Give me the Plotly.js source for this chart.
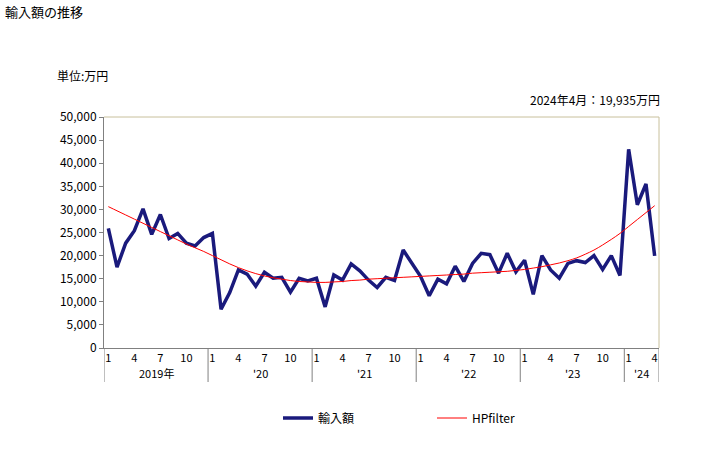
<!DOCTYPE html>
<html>
<head>
<meta charset="utf-8">
<script src="https://cdn.plot.ly/plotly-3.0.1.min.js"></script>
<style>html,body{margin:0;padding:0;background:#fff;}#chart{width:728px;height:450px;}</style>
</head>
<body>
<div id="chart"></div>
<script>
// ---- data ----
const years = [2019, 2020, 2021, 2022, 2023, 2024];
const yearLabels = ["2019年", "'20", "'21", "'22", "'23", "'24"];
const monthsPerYear = [12, 12, 12, 12, 12, 4];
const tickMonths = [1, 4, 7, 10];

// 輸入額 (万円), Jan 2019 .. Apr 2024
const imports = [
  25900, 17500, 22700, 25400, 30100, 24600, 28900, 23700, 24800, 22700, 22100, 23900,
  24800, 8400, 12000, 16900, 16000, 13400, 16400, 15100, 15300, 12100, 15100, 14500,
  15100, 8900, 15800, 14700, 18200, 16700, 14700, 13100, 15300, 14600, 21200, 18300,
  15500, 11300, 14900, 13900, 17700, 14400, 18300, 20500, 20200, 16200, 20500, 16500,
  19000, 11600, 20000, 16900, 15100, 18300, 18900, 18500, 20000, 17000, 20000, 15700,
  43000, 31000, 35500, 19935
];
// HPfilter trend
const hp = [
  30600, 29700, 28800, 27900, 27000, 26100, 25200, 24300, 23400, 22500, 21700, 20900,
  20000, 19100, 18200, 17400, 16700, 16100, 15600, 15200, 14900, 14600, 14400, 14300,
  14200, 14200, 14300, 14400, 14600, 14700, 14900, 15000, 15100, 15200, 15300, 15400,
  15500, 15600, 15700, 15800, 15900, 16000, 16200, 16300, 16400, 16500, 16600, 16800,
  17000, 17300, 17600, 18000, 18400, 18900, 19500, 20300, 21200, 22300, 23500, 24800,
  26300, 27800, 29300, 30800
];

// ---- build x positions & ticks ----
const xIdx = imports.map((_, i) => i);
const tickvals = [], ticktext = [], yearStart = [];
let k = 0;
monthsPerYear.forEach((n, yi) => {
  yearStart.push(k);
  for (let m = 1; m <= n; m++) {
    if (tickMonths.includes(m)) { tickvals.push(k); ticktext.push(String(m)); }
    k++;
  }
});
yearStart.push(k);

// ---- geometry ----
const L = 104, R = 659, T = 117, B = 348, W = 728, H = 450;
const py = (y) => (B - y) / (B - T);   // pixel y -> paper y
const px = (x) => (x - L) / (R - L);   // pixel x -> paper x

const font = "'Noto Sans CJK JP', 'Noto Sans', sans-serif";

const shapes = [];
for (let i = 0; i < yearStart.length; i++) {
  shapes.push({type: 'line', xref: 'x', yref: 'paper',
    x0: yearStart[i] - 0.5, x1: yearStart[i] - 0.5, y0: 0, y1: py(382),
    line: {color: '#808080', width: 1}});
}
// top & right border
shapes.push({type: 'line', xref: 'paper', yref: 'paper', x0: 0, x1: 1, y0: 1, y1: 1, line: {color: '#c8c09c', width: 1}});
shapes.push({type: 'line', xref: 'paper', yref: 'paper', x0: 1, x1: 1, y0: 0, y1: 1, line: {color: '#c8c09c', width: 1}});

const annotations = yearLabels.map((t, i) => ({
  x: (yearStart[i] + yearStart[i + 1] - 1) / 2, xref: 'x',
  y: py(373), yref: 'paper', text: t, showarrow: false,
  font: {family: font, size: 11, color: '#000'}, xanchor: 'center', yanchor: 'middle'
}));
annotations.push({x: px(55), xref: 'paper', y: py(76), yref: 'paper', text: '単位:万円',
  showarrow: false, xanchor: 'left', yanchor: 'middle', font: {family: font, size: 12, color: '#000'}});
annotations.push({x: px(662), xref: 'paper', y: py(100), yref: 'paper', text: '2024年4月：19,935万円',
  showarrow: false, xanchor: 'right', yanchor: 'middle', font: {family: font, size: 12, color: '#000'}});

const traces = [
  {x: xIdx, y: imports, type: 'scatter', mode: 'lines', name: '輸入額',
   line: {color: '#1a1a7c', width: 3.5}},
  {x: xIdx, y: hp, type: 'scatter', mode: 'lines', name: 'HPfilter',
   line: {color: '#ff0000', width: 1, shape: 'spline'}}
];

const layout = {
  width: W, height: H,
  margin: {l: L, r: W - R, t: T, b: H - B, pad: 0},
  paper_bgcolor: '#fff', plot_bgcolor: '#fff',
  title: {text: '輸入額の推移', x: 5 / W, xref: 'container', xanchor: 'left',
          y: 1 - 12 / H, yref: 'container', yanchor: 'middle',
          font: {family: font, size: 13, color: '#000'}},
  xaxis: {range: [-0.5, imports.length - 0.5], tickmode: 'array', tickvals: tickvals, ticktext: ticktext,
          showgrid: false, zeroline: false, showline: true, linecolor: '#808080', linewidth: 1,
          ticks: '', ticklen: 0, tickfont: {family: font, size: 11, color: '#000'}, fixedrange: true},
  yaxis: {range: [0, 50000], dtick: 5000, tick0: 0, tickformat: ',d', showgrid: false, zeroline: false,
          showline: true, linecolor: '#808080', linewidth: 1, ticks: 'outside', ticklen: 4, tickcolor: '#808080',
          tickfont: {family: font, size: 12, color: '#000'}, fixedrange: true},
  showlegend: true,
  legend: {orientation: 'h', x: px(432), xanchor: 'center', y: py(418), yanchor: 'middle',
           font: {family: font, size: 12, color: '#000'}, entrywidth: 109, itemwidth: 30,
           bgcolor: 'rgba(0,0,0,0)'},
  shapes: shapes,
  annotations: annotations
};

Plotly.newPlot('chart', traces, layout, {displayModeBar: false, staticPlot: true});
</script>
</body>
</html>
